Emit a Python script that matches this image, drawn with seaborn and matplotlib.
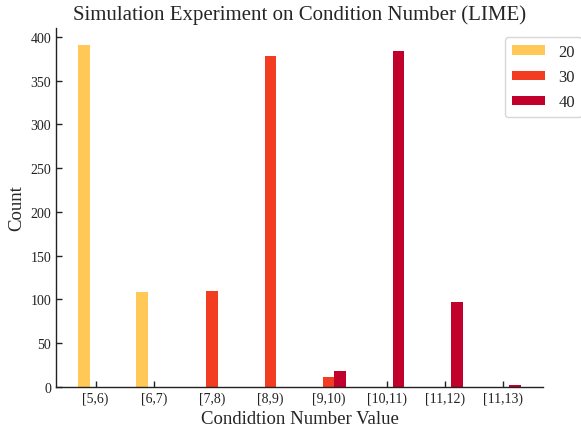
import matplotlib
matplotlib.use("Agg")
import matplotlib.pyplot as plt
import seaborn as sns
import pandas as pd

categories = ["[5,6)", "[6,7)", "[7,8)", "[8,9)", "[9,10)", "[10,11)", "[11,12)", "[11,13)"]
series_names = ["20", "30", "40"]
values_20 = [391, 109, 0, 0, 0, 0, 0, 0]
values_30 = [0, 0, 110, 378, 12, 0, 0, 0]
values_40 = [0, 0, 0, 0, 18, 384, 97, 2]
colors = ["#FFC857", "#F23D22", "#C1002B"]

rows = []
for name, vals in zip(series_names, [values_20, values_30, values_40]):
    for c, v in zip(categories, vals):
        rows.append({"cat": c, "series": name, "count": v})
df = pd.DataFrame(rows)

sns.set_style("ticks")
plt.rcParams["font.family"] = ["Liberation Serif", "DejaVu Serif"]

fig = plt.figure(figsize=(5.81, 4.27), dpi=100)
ax = fig.add_axes([0.0964, 0.0913, 0.8382, 0.8415])

sns.barplot(data=df, x="cat", y="count", hue="series", order=categories,
            hue_order=series_names, palette=colors, saturation=1, width=0.6, gap=0,
            linewidth=0, ax=ax, errorbar=None)

ax.set_xlim(-0.68, 7.68)
ax.set_ylim(0, 410.55)
ax.set_yticks([0, 50, 100, 150, 200, 250, 300, 350, 400])
ax.tick_params(direction="in", length=4, width=1, labelsize=10, colors="#222222")
for s in ["top", "right"]:
    ax.spines[s].set_visible(False)
for s in ["left", "bottom"]:
    ax.spines[s].set_color("#222222")
    ax.spines[s].set_linewidth(1)

ax.set_title("Simulation Experiment on Condition Number (LIME)", fontsize=15, pad=6)
ax.set_xlabel("Condidtion Number Value", fontsize=13.5, labelpad=3)
ax.set_ylabel("Count", fontsize=13.5)

leg = ax.legend(title=None, loc="upper left", bbox_to_anchor=(0.922, 0.973),
                borderaxespad=0, fontsize=12, frameon=True, handlelength=2.0,
                handleheight=0.5, handletextpad=0.8, labelspacing=0.55)
leg.get_frame().set_edgecolor("#cccccc")

fig.savefig("out.png", dpi=100)
